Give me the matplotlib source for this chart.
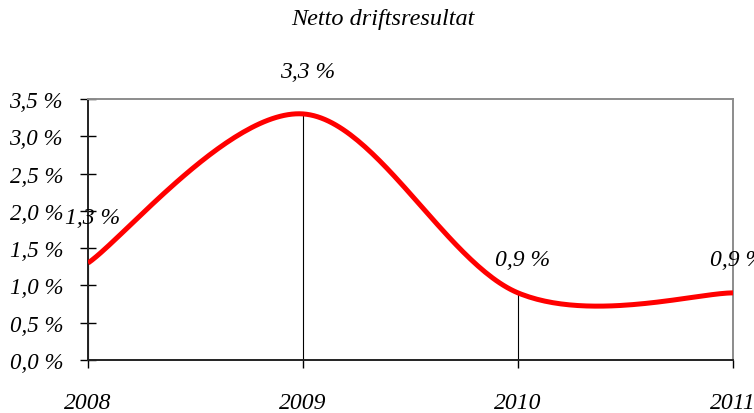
import numpy as np
import matplotlib.pyplot as plt

years = [2008, 2009, 2010, 2011]
values = [1.3, 3.3, 0.9, 0.9]
labels = ['1,3 %', '3,3 %', '0,9 %', '0,9 %']
yticks = [0.0, 0.5, 1.0, 1.5, 2.0, 2.5, 3.0, 3.5]


def smooth(xs, ys, n=60):
    # Excel-style smoothed line: cubic bezier with catmull-rom control points
    xs = np.asarray(xs, float)
    ys = np.asarray(ys, float)
    px = np.concatenate([[xs[0]], xs, [xs[-1]]])
    py = np.concatenate([[ys[0]], ys, [ys[-1]]])
    outx, outy = [], []
    t = np.linspace(0, 1, n)
    for i in range(1, len(px) - 2):
        x0, x1, x2, x3 = px[i - 1], px[i], px[i + 1], px[i + 2]
        y0, y1, y2, y3 = py[i - 1], py[i], py[i + 1], py[i + 2]
        cx1, cy1 = x1 + (x2 - x0) / 6, y1 + (y2 - y0) / 6
        cx2, cy2 = x2 - (x3 - x1) / 6, y2 - (y3 - y1) / 6
        b = [(1 - t) ** 3, 3 * (1 - t) ** 2 * t, 3 * (1 - t) * t ** 2, t ** 3]
        outx.append(b[0] * x1 + b[1] * cx1 + b[2] * cx2 + b[3] * x2)
        outy.append(b[0] * y1 + b[1] * cy1 + b[2] * cy2 + b[3] * y2)
    return np.concatenate(outx), np.concatenate(outy)


plt.rcParams['font.family'] = 'Liberation Serif'
plt.rcParams['font.style'] = 'italic'

fig = plt.figure(figsize=(7.54, 4.14), dpi=100)
ax = fig.add_axes([88 / 754, 1 - 361 / 414, (733 - 88) / 754, (361 - 100) / 414])

sx, sy = smooth(years, values)
ax.plot(sx, sy, color='#ff0000', lw=3.6, solid_capstyle='butt', zorder=3)

# drop lines from each point to the axis
ax.vlines(years, 0, values, color='black', lw=0.8, zorder=2)

# data labels above points
offsets = [46, 42, 33, 33]
for x, y, lab, off in zip(years, values, labels, offsets):
    ax.annotate(lab, (x, y), xytext=(3, off * 0.72), textcoords='offset points',
                ha='center', va='center', fontsize=17, annotation_clip=False)

ax.set_xlim(2008, 2011)
ax.set_ylim(0, 3.5)
ax.set_yticks(yticks)
ax.set_yticklabels([f'{v:.1f} %'.replace('.', ',') for v in yticks], fontsize=16.5)
ax.set_xticks(years)
ax.set_xticklabels([str(y) for y in years], fontsize=17)

ax.tick_params(axis='y', direction='inout', length=12, width=1, pad=12)
ax.tick_params(axis='x', direction='out', length=6, width=1, pad=17)

for s in ['left', 'bottom']:
    ax.spines[s].set_color('#222222')
    ax.spines[s].set_linewidth(1.4)
for s in ['top', 'right']:
    ax.spines[s].set_color('#8c8c8c')
    ax.spines[s].set_linewidth(1.4)

fig.text(383 / 754, 1 - 20 / 414, 'Netto driftsresultat', ha='center', va='center', fontsize=17.5)

fig.savefig('out.png', dpi=100)
